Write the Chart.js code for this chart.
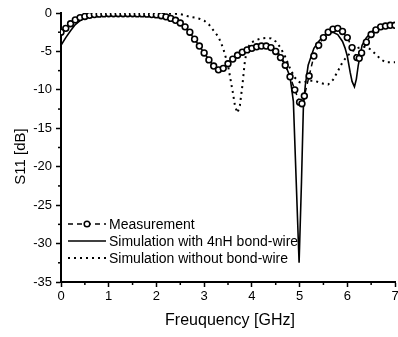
<!DOCTYPE html>
<html>
<head>
<meta charset="utf-8">
<script src="https://cdn.jsdelivr.net/npm/chart.js@4/dist/chart.umd.min.js"></script>
<style>
  html, body { margin: 0; padding: 0; background: #fff; }
  #wrap { width: 398px; height: 337px; }
</style>
</head>
<body>
<div id="wrap"><canvas id="c" width="398" height="337"></canvas></div>
<script>
// values (frequency in GHz, S11 in dB)
const measFreq = [0, 0.1, 0.2, 0.3, 0.4, 0.5, 0.6, 0.7, 0.8, 0.9, 1.0, 1.1, 1.2, 1.3, 1.4, 1.5, 1.6, 1.7, 1.8, 1.9,
  2.0, 2.1, 2.2, 2.3, 2.4, 2.5, 2.6, 2.7, 2.8, 2.9, 3.0, 3.1, 3.2, 3.3, 3.4, 3.5, 3.6, 3.7, 3.8, 3.9,
  4.0, 4.1, 4.2, 4.3, 4.4, 4.5, 4.6, 4.7, 4.8, 4.9, 5.0, 5.05, 5.1, 5.2, 5.3, 5.4, 5.5, 5.6, 5.7, 5.8, 5.9,
  6.0, 6.1, 6.2, 6.25, 6.3, 6.4, 6.5, 6.6, 6.7, 6.8, 6.9, 7.0];
const measS11 = [-2.5, -2.0, -1.4, -0.9, -0.6, -0.45, -0.3, -0.2, -0.15, -0.12, -0.1, -0.1, -0.1, -0.1, -0.1, -0.1, -0.12, -0.12, -0.15, -0.2,
  -0.25, -0.35, -0.5, -0.7, -0.95, -1.3, -1.8, -2.5, -3.4, -4.3, -5.2, -6.1, -6.9, -7.4, -7.2, -6.6, -6.0, -5.5, -5.1, -4.8,
  -4.6, -4.4, -4.3, -4.3, -4.5, -5.0, -5.8, -6.8, -8.3, -10.0, -11.6, -11.8, -10.8, -8.2, -5.6, -4.2, -3.2, -2.5, -2.1, -2.0, -2.4,
  -3.2, -4.5, -5.8, -5.9, -5.2, -3.8, -2.8, -2.2, -1.8, -1.7, -1.6, -1.6];

const simBwFreq = [0, 0.1, 0.2, 0.3, 0.4, 0.5, 0.6, 0.7, 0.8, 1.0, 1.5, 1.8, 2.0, 2.2, 2.4, 2.6, 2.8, 3.0, 3.2, 3.3, 3.4, 3.6, 3.8,
  4.0, 4.2, 4.3, 4.4, 4.5, 4.6, 4.7, 4.8, 4.87, 4.93, 4.99, 5.04, 5.08, 5.12, 5.18, 5.3, 5.4, 5.5, 5.6, 5.7, 5.8, 5.9,
  5.95, 6.0, 6.06, 6.1, 6.15, 6.19, 6.23, 6.31, 6.4, 6.5, 6.6, 6.7, 6.8, 7.0];
const simBwS11 = [-4.2, -3.2, -2.3, -1.5, -1.0, -0.6, -0.4, -0.25, -0.15, -0.1, -0.1, -0.15, -0.25, -0.5, -0.95, -1.8, -3.4, -5.2, -6.9, -7.4, -7.2, -6.0, -5.0,
  -4.4, -4.1, -4.1, -4.3, -4.8, -5.6, -6.7, -8.3, -11.5, -22, -32.5, -22, -12.2, -9.4, -6.8, -4.6, -3.7, -3.0, -2.6, -2.5, -2.8, -3.7,
  -4.5, -5.6, -7.7, -8.9, -9.6, -8.6, -6.8, -4.2, -3.2, -2.5, -2.0, -1.7, -1.6, -1.6];

const simNoFreq = [0, 0.1, 0.2, 0.3, 0.4, 0.5, 0.6, 0.8, 1.0, 1.5, 2.0, 2.4, 2.5, 2.6, 2.7, 2.8, 2.9, 3.0, 3.1, 3.2, 3.3, 3.4, 3.5,
  3.6, 3.65, 3.7, 3.75, 3.8, 3.85, 3.9, 4.0, 4.1, 4.2, 4.3, 4.4, 4.5, 4.6, 4.7, 4.8, 4.9, 5.0, 5.1, 5.2, 5.3, 5.4, 5.5,
  5.6, 5.7, 5.8, 5.9, 6.0, 6.1, 6.2, 6.3, 6.4, 6.5, 6.6, 6.7, 6.8, 6.9, 7.0];
const simNoS11 = [-2.6, -2.0, -1.4, -0.9, -0.6, -0.4, -0.25, -0.12, -0.1, -0.1, -0.1, -0.1, -0.15, -0.3, -0.5, -0.6, -0.75, -1.0, -1.5, -2.3, -3.1, -4.6, -6.8,
  -10.3, -12.2, -13.0, -12.0, -9.5, -6.5, -4.6, -3.8, -3.5, -3.3, -3.25, -3.3, -3.7, -4.5, -5.7, -7.2, -8.4, -9.0, -9.0, -8.8, -8.8, -9.0, -9.2,
  -9.3, -8.7, -7.6, -6.4, -5.6, -5.0, -4.6, -4.4, -4.4, -4.8, -5.4, -6.0, -6.4, -6.4, -6.4];

const seriesLabels = ['Measurement', 'Simulation with 4nH bond-wire', 'Simulation without bond-wire'];
const xTitle = 'Freuquency [GHz]';
const yTitle = 'S11 [dB]';

const FONT = '"Liberation Sans", Arial, Helvetica, sans-serif';
Chart.defaults.font.family = FONT;
Chart.defaults.color = '#000';

function pts(xs, ys) {
  return xs.map((x, i) => ({ x, y: ys[i] }));
}

// Chart.js keeps room for the last x label; the original plot runs to x=395
const PLOT_RIGHT = 395;
const stretchRight = {
  id: 'stretchRight',
  afterLayout(chart) {
    const a = chart.chartArea;
    const x = chart.scales.x;
    a.right = PLOT_RIGHT;
    a.width = a.right - a.left;
    x.right = PLOT_RIGHT;
    x.width = x.right - x.left;
    x.configure();
  }
};

// minor ticks, axis titles and the legend inside the plot
const extras = {
  id: 'extras',
  afterDraw(chart) {
    const { ctx, chartArea: a, scales: { x, y } } = chart;
    ctx.save();
    ctx.strokeStyle = '#000';
    ctx.lineWidth = 1.5;
    for (let v = 0.5; v < 7; v += 1) {
      const px = x.getPixelForValue(v);
      ctx.beginPath(); ctx.moveTo(px, a.bottom); ctx.lineTo(px, a.bottom + 3); ctx.stroke();
    }
    for (let v = -2.5; v > -35; v -= 5) {
      const py = y.getPixelForValue(v);
      ctx.beginPath(); ctx.moveTo(a.left, py); ctx.lineTo(a.left - 3, py); ctx.stroke();
    }

    // axis titles
    ctx.fillStyle = '#000';
    ctx.textAlign = 'center';
    ctx.textBaseline = 'middle';
    ctx.font = '16px ' + FONT;
    ctx.fillText(xTitle, (a.left + a.right) / 2 + 2, 321);
    ctx.save();
    ctx.translate(21, (a.top + a.bottom) / 2 + 9);
    ctx.rotate(-Math.PI / 2);
    ctx.font = '15px ' + FONT;
    ctx.fillText(yTitle, 0, 0);
    ctx.restore();

    // legend
    ctx.font = '14px ' + FONT;
    ctx.textAlign = 'left';
    const x0 = a.left + 7, x1 = a.left + 45;
    const rows = [a.top + 211, a.top + 228, a.top + 245];
    chart.data.datasets.forEach((ds, i) => {
      const ry = rows[i];
      ctx.save();
      ctx.strokeStyle = '#000';
      ctx.lineWidth = ds.borderWidth;
      ctx.setLineDash(ds.borderDash || []);
      ctx.beginPath(); ctx.moveTo(x0, ry); ctx.lineTo(x1, ry); ctx.stroke();
      ctx.setLineDash([]);
      if (ds.pointRadius > 0) {
        ctx.fillStyle = '#fff';
        ctx.lineWidth = 1.5;
        ctx.beginPath(); ctx.arc((x0 + x1) / 2, ry, 2.8, 0, Math.PI * 2); ctx.fill(); ctx.stroke();
      }
      ctx.restore();
      ctx.fillText(ds.label, x1 + 3, ry + 1);
    });
    ctx.restore();
  }
};

new Chart(document.getElementById('c'), {
  type: 'line',
  data: {
    datasets: [
      {
        label: seriesLabels[0],
        data: pts(measFreq, measS11),
        borderColor: '#000',
        borderWidth: 1.5,
        borderDash: [5, 4],
        pointRadius: 2.9,
        pointBorderWidth: 1.6,
        pointBackgroundColor: '#fff',
        pointBorderColor: '#000',
        tension: 0,
        order: 1
      },
      {
        label: seriesLabels[1],
        data: pts(simBwFreq, simBwS11),
        borderColor: '#000',
        borderWidth: 1.6,
        pointRadius: 0,
        tension: 0,
        order: 2
      },
      {
        label: seriesLabels[2],
        data: pts(simNoFreq, simNoS11),
        borderColor: '#000',
        borderWidth: 2,
        borderDash: [2, 4],
        pointRadius: 0,
        tension: 0,
        order: 3
      }
    ]
  },
  options: {
    responsive: false,
    animation: false,
    devicePixelRatio: 1,
    layout: { padding: { top: 13, right: 0, left: 0, bottom: 0 } },
    plugins: { legend: { display: false }, tooltip: { enabled: false } },
    scales: {
      x: {
        type: 'linear',
        min: 0,
        max: 7,
        ticks: { stepSize: 1, font: { size: 13 }, color: '#000', padding: 2, maxRotation: 0 },
        grid: { drawOnChartArea: false, drawTicks: true, tickLength: 5, tickWidth: 1.5, tickColor: '#000' },
        border: { display: true, color: '#000', width: 2 },
        afterFit(s) { s.height = 55; }
      },
      y: {
        min: -35,
        max: 0,
        ticks: { stepSize: 5, font: { size: 13 }, color: '#000', padding: 4 },
        grid: { drawOnChartArea: false, drawTicks: true, tickLength: 5, tickWidth: 1.5, tickColor: '#000' },
        border: { display: true, color: '#000', width: 2 },
        afterFit(s) { s.width = 61; }
      }
    }
  },
  plugins: [stretchRight, extras]
});
</script>
</body>
</html>
